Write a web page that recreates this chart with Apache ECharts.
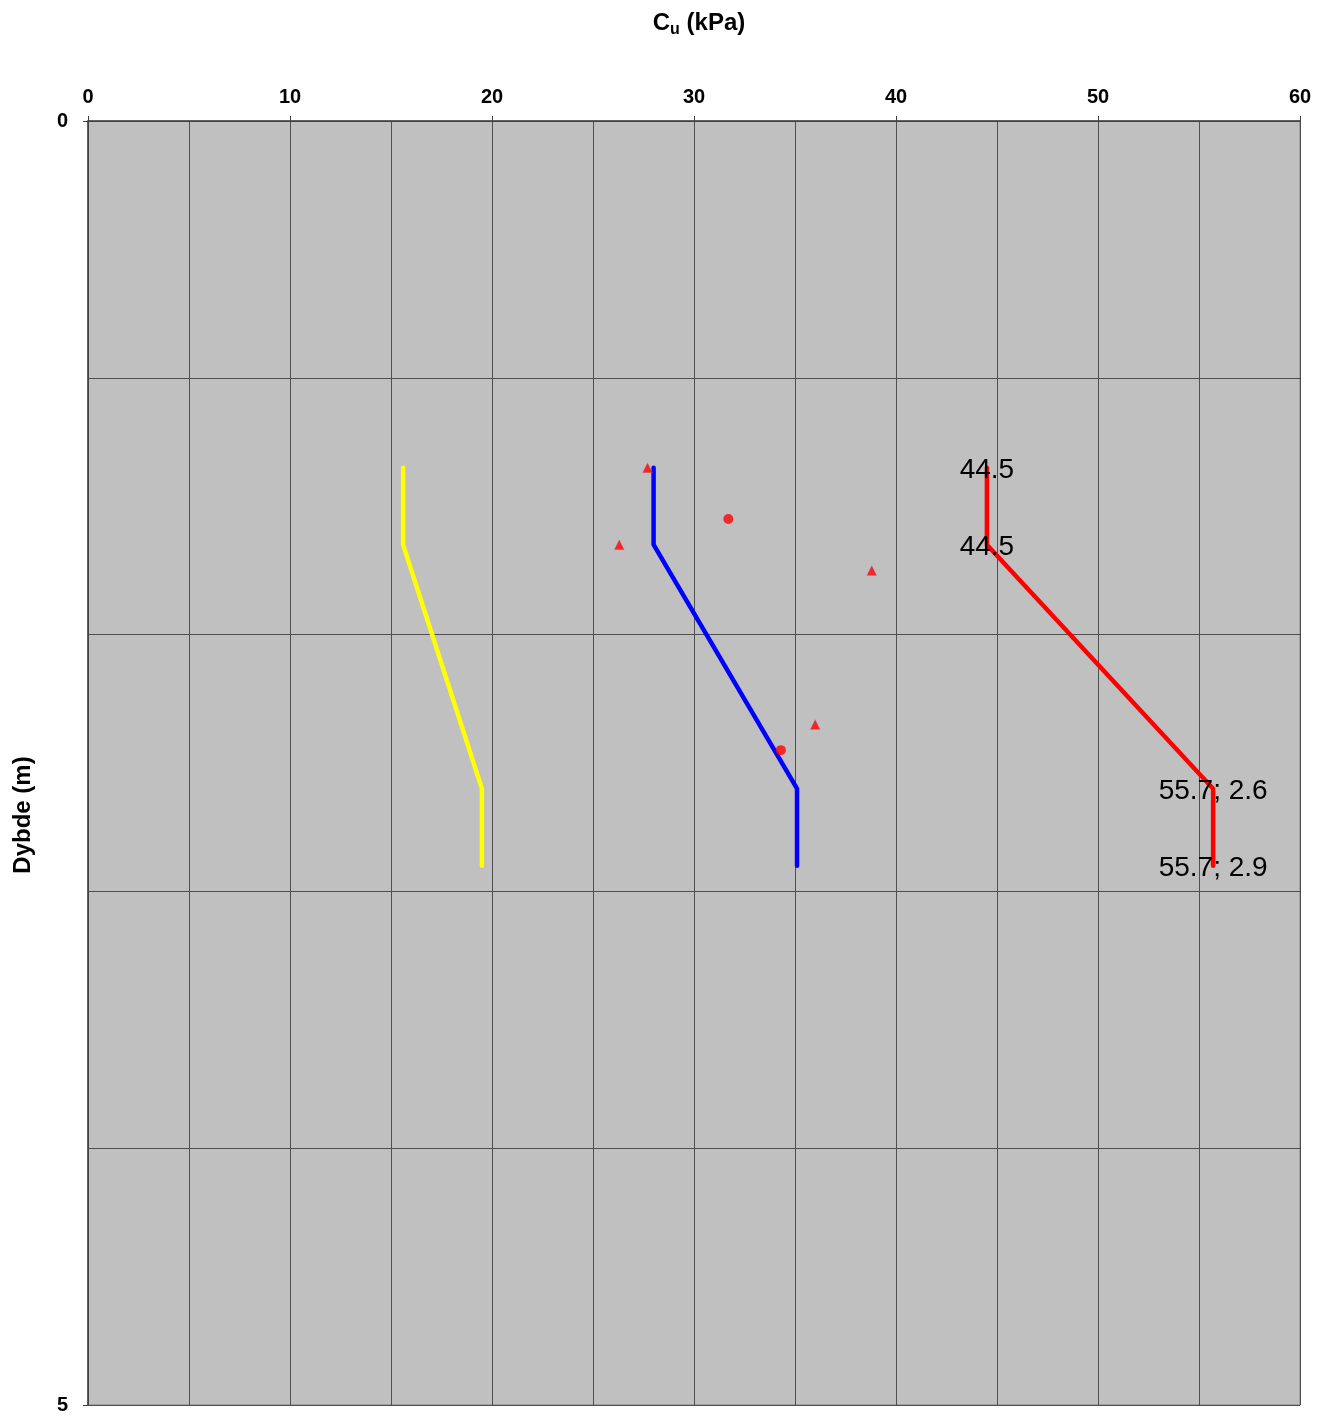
<!DOCTYPE html>
<html>
<head>
<meta charset="utf-8">
<title>Cu profil</title>
<script src="https://cdn.jsdelivr.net/npm/echarts@6/dist/echarts.min.js"></script>
<style>
  html, body { margin: 0; padding: 0; background: #ffffff; }
  #chart { width: 1329px; height: 1415px; }
</style>
</head>
<body>
<div id="chart"></div>
<script>
// Undrained shear strength profiles, Cu (kPa) vs depth (m)
const xTicks = [0, 10, 20, 30, 40, 50, 60];
const yTicks = [0, 5];

// Profile lines: [Cu, depth]
const yellowProfile = [[15.6, 1.35], [15.6, 1.65], [19.5, 2.6], [19.5, 2.9]];
const blueProfile   = [[28.0, 1.35], [28.0, 1.65], [35.1, 2.6], [35.1, 2.9]];
const redProfile    = [[44.5, 1.35], [44.5, 1.65], [55.7, 2.6], [55.7, 2.9]];

// Measured points
const triangles = [[27.7, 1.35], [26.3, 1.65], [38.8, 1.75], [36.0, 2.35]];
const circles   = [[31.7, 1.55], [34.3, 2.45]];

const FONT = 'Liberation Sans, Arial, sans-serif';
const AXIS_COLOR = '#404040';
const GRID_COLOR = '#4f4f4f';

const chart = echarts.init(document.getElementById('chart'), null, { renderer: 'canvas' });

function profileSeries(data, color) {
  return {
    type: 'line',
    data: data,
    symbol: 'none',
    lineStyle: { color: color, width: 4.5, cap: 'round', join: 'round' },
    silent: true,
    z: 3
  };
}

const tickLabel = { fontFamily: FONT, fontWeight: 'bold', fontSize: 20, color: '#000' };

chart.setOption({
  animation: false,
  backgroundColor: '#ffffff',
  title: {
    text: '{c|C}{s|u}{c| (kPa)}',
    left: 694,
    top: 3,
    textAlign: 'center',
    textStyle: {
      rich: {
        c: { fontFamily: FONT, fontWeight: 'bold', fontSize: 24, color: '#000', lineHeight: 30 },
        s: { fontFamily: FONT, fontWeight: 'bold', fontSize: 16, color: '#000', lineHeight: 30, verticalAlign: 'bottom', padding: [10, 0, 0, 0] }
      }
    }
  },
  graphic: [{
    type: 'text',
    x: 23,
    y: 815,
    rotation: Math.PI / 2,
    style: {
      text: 'Dybde (m)',
      fontFamily: FONT,
      fontWeight: 'bold',
      fontSize: 24,
      fill: '#000',
      align: 'center',
      verticalAlign: 'middle'
    }
  }],
  grid: {
    left: 88,
    top: 121,
    width: 1212,
    height: 1285,
    show: true,
    backgroundColor: '#C0C0C0',
    borderColor: '#808080',
    borderWidth: 1
  },
  xAxis: [
    {
      // gridlines every 5 kPa
      type: 'value', position: 'top', min: 0, max: 60, interval: 5,
      axisLine: { show: true, lineStyle: { color: AXIS_COLOR, width: 1.5 } },
      axisTick: { show: false },
      axisLabel: { show: false },
      splitLine: { show: true, lineStyle: { color: GRID_COLOR, width: 1 } }
    },
    {
      // labelled ticks every 10 kPa
      type: 'value', position: 'top', min: 0, max: 60, interval: 10,
      axisLine: { show: false },
      axisTick: { show: true, length: 5, customValues: xTicks, lineStyle: { color: AXIS_COLOR } },
      axisLabel: Object.assign({ customValues: xTicks, margin: 14 }, tickLabel),
      splitLine: { show: false }
    }
  ],
  yAxis: [
    {
      // gridlines every metre
      type: 'value', inverse: true, min: 0, max: 5, interval: 1,
      axisLine: { show: true, lineStyle: { color: AXIS_COLOR, width: 1.5 } },
      axisTick: { show: false },
      axisLabel: { show: false },
      splitLine: { show: true, lineStyle: { color: GRID_COLOR, width: 1 } }
    },
    {
      type: 'value', position: 'left', inverse: true, min: 0, max: 5, interval: 5,
      axisLine: { show: false },
      axisTick: { show: true, length: 5, customValues: yTicks, lineStyle: { color: AXIS_COLOR } },
      axisLabel: Object.assign({ customValues: yTicks, margin: 20 }, tickLabel),
      splitLine: { show: false }
    }
  ],
  series: [
    profileSeries(yellowProfile, '#FFFF00'),
    profileSeries(blueProfile, '#0000FF'),
    {
      type: 'line',
      data: redProfile,
      symbol: 'circle',
      symbolSize: 0.1,
      showSymbol: true,
      itemStyle: { color: '#FF0000' },
      lineStyle: { color: '#FF0000', width: 4.5, cap: 'round', join: 'round' },
      label: {
        show: true,
        position: 'inside',
        offset: [0, 3],
        fontFamily: FONT,
        fontSize: 28,
        color: '#000',
        formatter: function (p) {
          const x = p.value[0].toFixed(1);
          const y = p.value[1].toFixed(1);
          return p.dataIndex < 2 ? x : x + '; ' + y;
        }
      },
      silent: true,
      z: 3
    },
    {
      type: 'scatter',
      data: triangles,
      symbol: 'triangle',
      symbolSize: 10,
      itemStyle: { color: '#FF0000', borderColor: 'rgba(170,140,200,0.6)', borderWidth: 0.5 },
      z: 4
    },
    {
      type: 'scatter',
      data: circles,
      symbol: 'circle',
      symbolSize: 10,
      itemStyle: { color: '#FF0000' },
      z: 4
    }
  ]
});
</script>
</body>
</html>
